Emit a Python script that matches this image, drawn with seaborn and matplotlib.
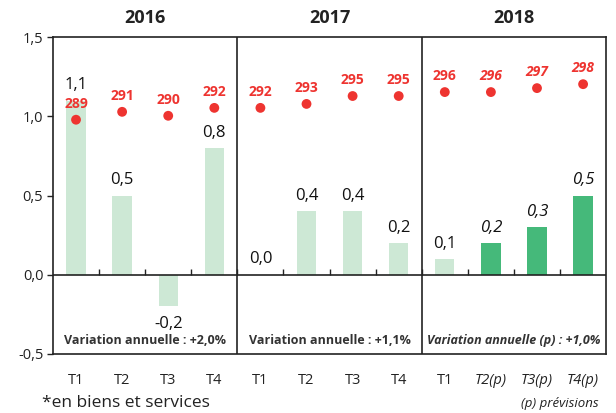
import matplotlib
matplotlib.use("Agg")
import matplotlib.pyplot as plt
import numpy as np
import pandas as pd
import seaborn as sns
from matplotlib.ticker import FuncFormatter
from matplotlib.markers import TICKUP

# donnees
annees = ["2016", "2017", "2018"]
trimestres = ["T1", "T2", "T3", "T4", "T1", "T2", "T3", "T4", "T1", "T2(p)", "T3(p)", "T4(p)"]
variation = [1.1, 0.5, -0.2, 0.8, 0.0, 0.4, 0.4, 0.2, 0.1, 0.2, 0.3, 0.5]
indice = [289, 291, 290, 292, 292, 293, 295, 295, 296, 296, 297, 298]
prevision = [False] * 9 + [True] * 3
variation_annuelle = ["Variation annuelle : +2,0%", "Variation annuelle : +1,1%",
                      "Variation annuelle (p) : +1,0%"]

VERT_CLAIR = "#cde8d5"
VERT = "#45b97a"
ROUGE = "#ee3430"
NOIR = "#222222"

def virgule(v, pos=None):
    return f"{v:.1f}".replace(".", ",")

if __name__ == "__main__":
    sns.set_style("white")
    plt.rcParams['font.family'] = ['Open Sans', 'DejaVu Sans']

    n = len(trimestres)
    df = pd.DataFrame({
        "pos": [f"{annees[i // 4]}-{t}" for i, t in enumerate(trimestres)],
        "idx": np.arange(n),
        "variation": variation,
        "indice": indice,
        "prev": ["prevision" if p else "realise" for p in prevision],
    })

    fig = plt.figure(figsize=(6.16, 4.13), dpi=100)
    ax = fig.add_axes([0.086, 0.143, 0.898, 0.767])
    sns.barplot(data=df, x="pos", y="variation", hue="prev", dodge=False,
                palette={"realise": VERT_CLAIR, "prevision": VERT},
                width=0.42, legend=False, ax=ax, saturation=1, linewidth=0)
    ax.set_xlim(-0.5, n - 0.5)
    ax.set_ylim(-0.5, 1.5)
    ax.set_yticks([-0.5, 0.0, 0.5, 1.0, 1.5])
    ax.yaxis.set_major_formatter(FuncFormatter(virgule))
    ax.set_xlabel("")
    ax.set_ylabel("")
    ax.set_xticks(np.arange(n))
    ax.set_xticklabels(trimestres)
    for lab, p in zip(ax.get_xticklabels(), prevision):
        if p:
            lab.set_style("italic")
    ax.tick_params(axis="x", length=0, pad=14, labelsize=10.5, colors=NOIR)
    ax.tick_params(axis="y", direction="out", length=4, width=1, left=True,
                   labelsize=10.5, colors=NOIR, pad=3)
    for s in ax.spines.values():
        s.set_visible(True)
        s.set_color(NOIR)
        s.set_linewidth(1.2)

    # ligne du zero avec graduations vers le haut
    ax.axhline(0, color=NOIR, lw=1.2, zorder=3)
    limites = np.arange(0.5, n - 1, 1)
    ax.plot(limites, np.zeros_like(limites), ls="none", marker=TICKUP,
            ms=4.5, mew=1, color=NOIR, zorder=3)

    for k in range(1, len(annees)):
        ax.axvline(4 * k - 0.5, color=NOIR, lw=1.2)

    # etiquettes des barres
    for i, (v, p) in enumerate(zip(variation, prevision)):
        off = 11 if v >= 0 else -13
        ax.annotate(virgule(v), (i, v), xytext=(0, off), textcoords="offset points",
                    ha="center", va="center", fontsize=12, color="#111111",
                    style="italic" if p else "normal")

    # indice (points rouges)
    ax2 = ax.twinx()
    sns.scatterplot(data=df, x="idx", y="indice", ax=ax2, color=ROUGE, s=50,
                    edgecolor="none", zorder=5)
    ax2.set_ylim(229.7, 309.9)
    ax2.set_yticks([])
    ax2.set_ylabel("")
    ax2.set_xlim(-0.5, n - 0.5)
    for s in ax2.spines.values():
        s.set_visible(False)
    for i, v in enumerate(indice):
        ax2.annotate(str(v), (i, v), xytext=(0, 11.5), textcoords="offset points",
                     ha="center", va="center", fontsize=10, fontweight="bold",
                     color=ROUGE, style="italic" if prevision[i] else "normal")

    # titres des annees et variations annuelles
    for k, an in enumerate(annees):
        xc = 4 * k + 1.5
        ax.annotate(an, (xc, 1.0), xycoords=("data", "axes fraction"), xytext=(0, 14),
                    textcoords="offset points", ha="center", va="center",
                    fontsize=13, fontweight="bold", color=NOIR)
        ax.annotate(variation_annuelle[k], (xc, 0.0), xycoords=("data", "axes fraction"),
                    xytext=(0, 10), textcoords="offset points", ha="center", va="center",
                    fontsize=9, fontweight="bold", color="#333333",
                    style="italic" if k == 2 else "normal")

    fig.text(0.068, 0.024, "*en biens et services", fontsize=12.5, color=NOIR,
             ha="left", va="center")
    fig.text(0.972, 0.022, "(p) prévisions", fontsize=9.5, color=NOIR,
             ha="right", va="center", style="italic")

    fig.savefig("out.png", dpi=100)
